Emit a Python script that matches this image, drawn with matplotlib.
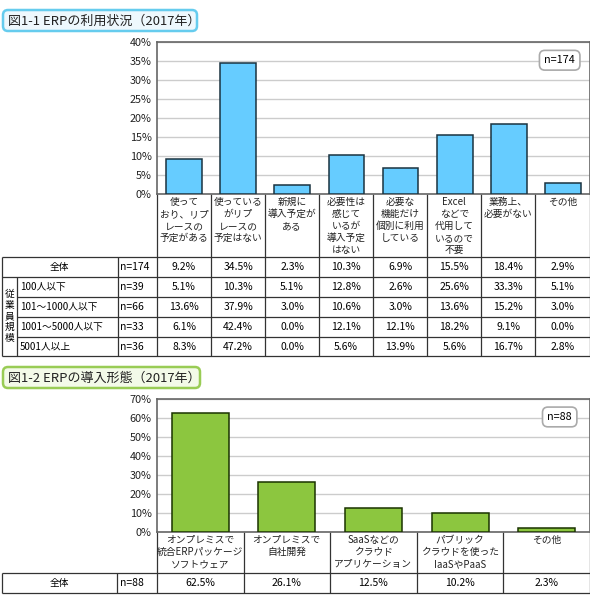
import numpy as np
import matplotlib
matplotlib.use("Agg")
import matplotlib.pyplot as plt
from matplotlib.patches import FancyBboxPatch

plt.rcParams['font.family'] = ['Noto Sans CJK JP', 'DejaVu Sans']

# ---- data: figure 1-1 ----
usage_labels = ["使って\nおり、リプ\nレースの\n予定がある",
                "使っている\nがリプ\nレースの\n予定はない",
                "新規に\n導入予定が\nある",
                "必要性は\n感じて\nいるが\n導入予定\nはない",
                "必要な\n機能だけ\n個別に利用\nしている",
                "Excel\nなどで\n代用して\nいるので\n不要",
                "業務上、\n必要がない",
                "その他"]
usage_total = [9.2, 34.5, 2.3, 10.3, 6.9, 15.5, 18.4, 2.9]
usage_groups = ["100人以下", "101～1000人以下", "1001～5000人以下", "5001人以上"]
usage_group_n = [39, 66, 33, 36]
usage_by_group = [
    [5.1, 10.3, 5.1, 12.8, 2.6, 25.6, 33.3, 5.1],
    [13.6, 37.9, 3.0, 10.6, 3.0, 13.6, 15.2, 3.0],
    [6.1, 42.4, 0.0, 12.1, 12.1, 18.2, 9.1, 0.0],
    [8.3, 47.2, 0.0, 5.6, 13.9, 5.6, 16.7, 2.8],
]
usage_n = 174

# ---- data: figure 1-2 ----
form_labels = ["オンプレミスで\n統合ERPパッケージ\nソフトウェア",
               "オンプレミスで\n自社開発",
               "SaaSなどの\nクラウド\nアプリケーション",
               "パブリック\nクラウドを使った\nIaaSやPaaS",
               "その他"]
form_total = [62.5, 26.1, 12.5, 10.2, 2.3]
form_n = 88

W, H = 590, 604
BLUE = '#66ccff'
GREEN = '#8cc63f'
LINE = '#333333'
FS = 7
NFS = 7.5

fig = plt.figure(figsize=(W / 100, H / 100), dpi=100)
bg = fig.add_axes([0, 0, 1, 1])
bg.set_xlim(0, W)
bg.set_ylim(H, 0)
bg.axis('off')


def px_axes(left, top, right, bottom):
    return fig.add_axes([left / W, 1 - bottom / H, (right - left) / W, (bottom - top) / H])


def hline(y, x0, x1):
    bg.plot([x0, x1], [y, y], color=LINE, lw=0.9, solid_capstyle='butt')


def vline(x, y0, y1):
    bg.plot([x, x], [y0, y1], color=LINE, lw=0.9, solid_capstyle='butt')


def title_box(x0, y0, x1, y1, text, edge, face):
    box = FancyBboxPatch((x0, y0), x1 - x0, y1 - y0,
                         boxstyle="round,pad=0,rounding_size=5",
                         fc=face, ec=edge, lw=1.8)
    bg.add_patch(box)
    bg.text(x0 + 5, (y0 + y1) / 2 + 0.5, text, fontsize=9.4, va='center', ha='left', color='#222222')


def bar_chart(ax, values, color, edge, ymax, step, n):
    x = np.arange(len(values))
    ax.bar(x, values, width=0.66, color=color, edgecolor=edge, linewidth=1.1, zorder=3)
    ax.set_xlim(-0.5, len(values) - 0.5)
    ax.set_ylim(0, ymax)
    ticks = np.arange(0, ymax + 1, step)
    ax.set_yticks(ticks)
    ax.set_yticklabels(["{}%".format(int(t)) for t in ticks], fontsize=7.8, color='#222222')
    ax.set_xticks([])
    ax.tick_params(axis='y', length=0, pad=4)
    ax.grid(axis='y', color='#cccccc', lw=1.0, zorder=0)
    for s in ax.spines.values():
        s.set_color('#666666')
        s.set_linewidth(1.2)
    ax.text(0.93, 0.88 if ymax == 40 else 0.865, "n={}".format(n), transform=ax.transAxes,
            fontsize=7.8, ha='center', va='center', zorder=5,
            bbox=dict(boxstyle='round,pad=0.45,rounding_size=0.5', fc='white', ec='#aaaaaa', lw=1.2))


# ================= figure 1-1 =================
title_box(3, 10, 197, 31, "図1-1 ERPの利用状況（2017年）", '#66ccee', '#eef8fd')
ax1 = px_axes(157, 42, 590, 194)
bar_chart(ax1, usage_total, BLUE, '#1a3340', 40, 5, usage_n)

edges1 = np.linspace(157, 589.5, len(usage_total) + 1)
centers1 = (edges1[:-1] + edges1[1:]) / 2
for xe in edges1:
    vline(xe, 194, 356)
for cx, lab in zip(centers1, usage_labels):
    bg.text(cx, 197, lab, fontsize=FS, ha='center', va='top', linespacing=1.25, color='#222222')

hline(257, 2, 589.5)
hline(277, 2, 589.5)
for y in [297, 317, 337]:
    hline(y, 17, 589.5)
hline(356, 2, 589.5)
vline(2, 257, 356)
vline(17, 277, 356)
vline(118, 257, 356)

row_y = [267, 287, 307, 327, 346.5]
bg.text(59, row_y[0], "全体", fontsize=FS, ha='center', va='center')
bg.text(120, row_y[0], "n={}".format(usage_n), fontsize=NFS, ha='left', va='center')
for cx, v in zip(centers1, usage_total):
    bg.text(cx, row_y[0], "{:.1f}%".format(v), fontsize=NFS, ha='center', va='center')
for ry, g, gn, vals in zip(row_y[1:], usage_groups, usage_group_n, usage_by_group):
    bg.text(20, ry, g, fontsize=FS, ha='left', va='center')
    bg.text(120, ry, "n={}".format(gn), fontsize=NFS, ha='left', va='center')
    for cx, v in zip(centers1, vals):
        bg.text(cx, ry, "{:.1f}%".format(v), fontsize=NFS, ha='center', va='center')
bg.text(9.5, 316, "\n".join("従業員規模"), fontsize=FS, ha='center', va='center', linespacing=1.12)

# ================= figure 1-2 =================
title_box(3, 367, 200, 388, "図1-2 ERPの導入形態（2017年）", '#99cc55', '#f3fae8')
ax2 = px_axes(157, 399, 590, 532)
bar_chart(ax2, form_total, GREEN, '#1a3300', 70, 10, form_n)

edges2 = np.linspace(157, 589.5, len(form_total) + 1)
centers2 = (edges2[:-1] + edges2[1:]) / 2
for xe in edges2:
    vline(xe, 532, 593)
for cx, lab in zip(centers2, form_labels):
    bg.text(cx, 535, lab, fontsize=FS, ha='center', va='top', linespacing=1.25, color='#222222')

hline(573, 2, 589.5)
hline(593, 2, 589.5)
vline(2, 573, 593)
vline(117, 573, 593)
bg.text(59, 583, "全体", fontsize=FS, ha='center', va='center')
bg.text(120, 583, "n={}".format(form_n), fontsize=NFS, ha='left', va='center')
for cx, v in zip(centers2, form_total):
    bg.text(cx, 583, "{:.1f}%".format(v), fontsize=NFS, ha='center', va='center')

fig.savefig("out.png", dpi=100)
